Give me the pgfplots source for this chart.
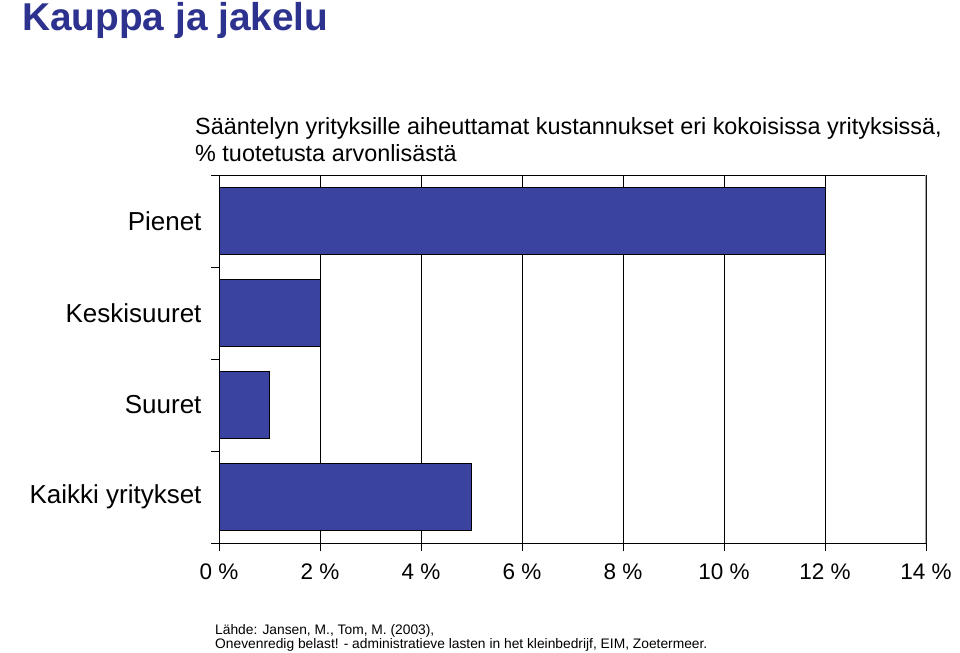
\documentclass[border=0pt]{standalone}
\usepackage{fontspec}
\setmainfont{Liberation Sans}
\usepackage{pgfplots}
\pgfplotsset{compat=1.18}
\definecolor{barblue}{RGB}{58,67,160}
\definecolor{titleblue}{RGB}{44,50,142}
\begin{document}
\begin{tikzpicture}
\path[use as bounding box] (0bp,0bp) rectangle (960bp,653bp);
\node[anchor=base west,inner sep=0pt,text=titleblue,font=\fontsize{38.8bp}{42bp}\selectfont\bfseries] at (22bp,622bp) {Kauppa ja jakelu};
\node[anchor=base west,inner sep=0pt,font=\fontsize{23.4bp}{26bp}\selectfont] at (195bp,518bp) {Sääntelyn yrityksille aiheuttamat kustannukset eri kokoisissa yrityksissä,};
\node[anchor=base west,inner sep=0pt,font=\fontsize{23.4bp}{26bp}\selectfont] at (195bp,491bp) {\% tuotetusta arvonlisästä};
\node[anchor=base west,inner sep=0pt,font=\fontsize{13.8bp}{16bp}\selectfont] at (215bp,19bp) {Lähde: Jansen, M., Tom, M. (2003),};
\node[anchor=base west,inner sep=0pt,font=\fontsize{13.8bp}{16bp}\selectfont] at (215bp,5bp) {Onevenredig belast! - administratieve lasten in het kleinbedrijf, EIM, Zoetermeer.};
\begin{axis}[
  at={(219bp,110bp)}, anchor=south west,
  scale only axis, width=707bp, height=368bp,
  xbar, bar width=0.72,
  xmin=0, xmax=14, ymin=-0.5, ymax=3.5, y dir=reverse,
  xtick={0,2,4,6,8,10,12,14},
  xticklabels={0 \%,2 \%,4 \%,6 \%,8 \%,10 \%,12 \%,14 \%},
  ytick={0,1,2,3},
  yticklabels={Pienet,Keskisuuret,Suuret,Kaikki yritykset},
  minor ytick={-0.5,0.5,1.5,2.5,3.5},
  major y tick style={draw=none},
  tick align=outside, xtick pos=bottom, ytick pos=left,
  major tick length=8bp, minor tick length=8bp,
  every tick/.style={black, line width=1bp},
  xmajorgrids, grid style={black, line width=1bp},
  axis line style={black, line width=1bp},
  x tick label style={font=\fontsize{22.5bp}{26bp}\selectfont, yshift=-9bp},
  y tick label style={font=\fontsize{26bp}{28bp}\selectfont, xshift=-6bp},
]
\addplot[fill=barblue, draw=black, line width=0.8bp] coordinates {(12,0) (2,1) (1,2) (5,3)};
\draw[gray!70, line width=1.2bp] (axis cs:14,-0.5) -- (axis cs:14,3.5);
\end{axis}
\end{tikzpicture}
\end{document}
